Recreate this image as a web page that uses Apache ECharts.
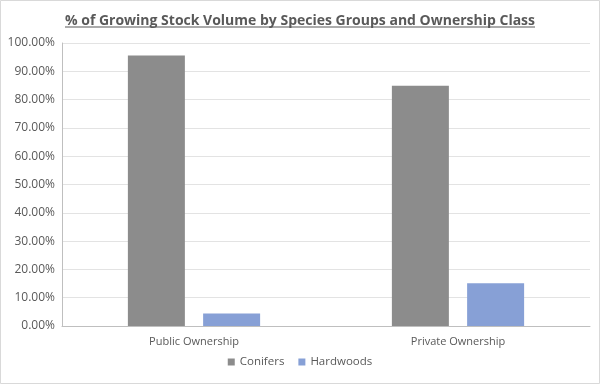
<!DOCTYPE html>
<html><head><meta charset="utf-8">
<script src="https://cdn.jsdelivr.net/npm/echarts@6/dist/echarts.min.js"></script>
<style>html,body{margin:0;padding:0;background:#fff}#c{width:600px;height:384px}</style>
</head><body><div id="c"></div>
<script>
var titleText = '% of Growing Stock Volume by Species Groups and Ownership Class';
var categories = ['Public Ownership', 'Private Ownership'];
var seriesNames = ['Conifers', 'Hardwoods'];
var conifers = [95.6, 84.9];
var hardwoods = [4.4, 15.1];
var yTicks = [0, 10, 20, 30, 40, 50, 60, 70, 80, 90, 100];

var FONT = '"Open Sans", "Liberation Sans", sans-serif';
var chart = echarts.init(document.getElementById('c'), null, {renderer: 'canvas'});
chart.setOption({
  animation: false,
  backgroundColor: '#fff',
  title: {
    text: titleText, left: 'center', top: 9,
    textStyle: {fontFamily: FONT, fontWeight: 'bold', fontSize: 14, color: '#595959'}
  },
  graphic: [
    {type: 'rect', shape: {x: 0.5, y: 0.5, width: 599, height: 383}, style: {fill: 'none', stroke: '#d9d9d9', lineWidth: 1}, silent: true},
    {type: 'line', shape: {x1: 65, y1: 27, x2: 535, y2: 27}, style: {stroke: '#595959', lineWidth: 1.2}, silent: true}
  ],
  grid: {left: 62, right: 10, top: 43, bottom: 58, containLabel: false},
  legend: {
    data: seriesNames, bottom: 11, left: 'center', itemWidth: 7, itemHeight: 7, itemGap: 14, icon: 'rect',
    textStyle: {fontFamily: FONT, fontSize: 11.5, color: '#595959'}
  },
  xAxis: {
    type: 'category', data: categories,
    axisLine: {lineStyle: {color: '#bfbfbf'}}, axisTick: {show: false},
    axisLabel: {fontFamily: FONT, fontSize: 11, color: '#595959', margin: 10}
  },
  yAxis: {
    type: 'value', min: yTicks[0], max: yTicks[yTicks.length - 1], interval: 10,
    axisLine: {show: true, lineStyle: {color: '#bfbfbf'}}, axisTick: {show: false},
    splitLine: {lineStyle: {color: '#e3e3e3'}},
    axisLabel: {fontFamily: FONT, fontSize: 12, color: '#595959', margin: 7, formatter: function (v) { return v.toFixed(2) + '%'; }}
  },
  series: [
    {name: seriesNames[0], type: 'bar', data: conifers, barWidth: 57, barGap: '32%', itemStyle: {color: '#8c8c8c'}},
    {name: seriesNames[1], type: 'bar', data: hardwoods, barWidth: 57, itemStyle: {color: '#87a0d6'}}
  ]
});
</script></body></html>
